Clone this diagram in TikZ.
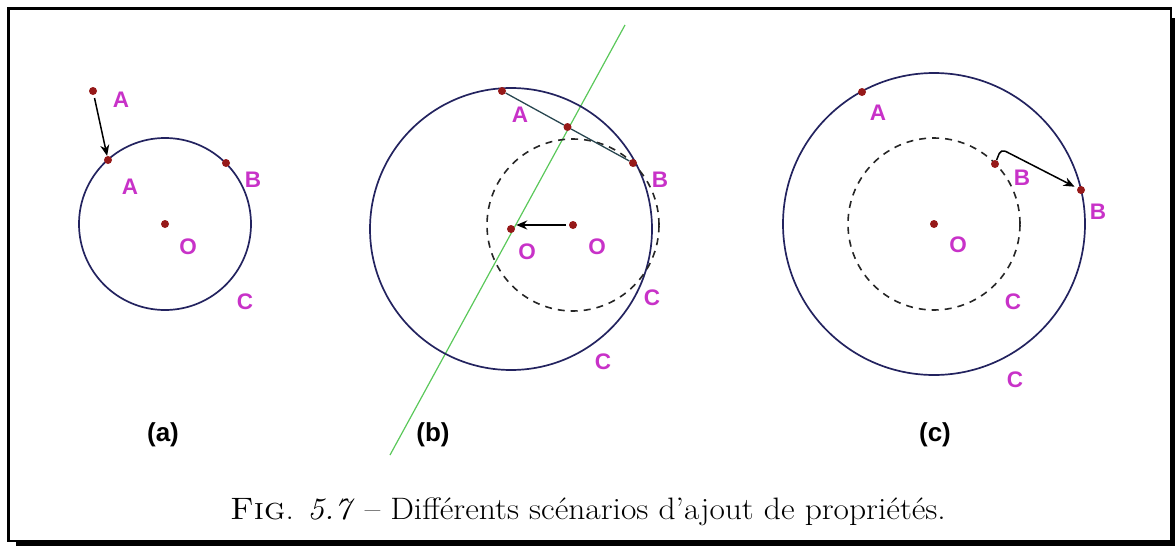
\documentclass[tikz,border=0pt]{standalone}
\usepackage{fontspec}
\usepackage{tikz}
\usepackage{xcolor}
\usetikzlibrary{arrows.meta, calc}
\newfontfamily\lblfont{Liberation Sans}
\definecolor{ptred}{RGB}{150,25,25}
\definecolor{lblmag}{RGB}{200,50,200}
\definecolor{circnavy}{RGB}{35,35,95}
\definecolor{bisgreen}{RGB}{90,200,90}
\definecolor{segdark}{RGB}{40,70,80}
\tikzset{
	dot/.style={circle, fill=ptred, inner sep=0pt, minimum size=8pt},
	lbl/.style={text=lblmag, inner sep=0pt, font=\lblfont\bfseries\fontsize{22.5}{22.5}\selectfont},
	circ/.style={draw=circnavy, line width=1.7pt},
	dashcirc/.style={draw=black!85, line width=1.6pt, dash pattern=on 7pt off 6pt},
	arrow/.style={-{Stealth[length=11pt, width=9pt]}, line width=1.5pt},
	panellabel/.style={font=\lblfont\bfseries\fontsize{26}{26}\selectfont, inner sep=0pt},
	capfont/.style={font=\fontsize{31}{34}\selectfont, inner sep=0pt, xscale=1.08},
}
\begin{document}
\begin{tikzpicture}[x=1pt, y=-1pt]
	\useasboundingbox (0,0) rectangle (1175,546);
	% frame with shadow
	\fill[black] (1171,18) rectangle (1175,546);
	\fill[black] (16,541) rectangle (1175,546);
	\draw[line width=2.6pt] (8.3,8.3) rectangle (1171,541);
	% Panel (a)
	\draw[circ] (165,224) circle[radius=86pt];
	\node[dot] (a_A0) at (93,91) {};
	\node[dot] (a_A1) at (108,160) {};
	\node[dot] (a_B) at (226,163) {};
	\node[dot] (a_O) at (165,224) {};
	\draw[arrow, shorten <=3pt, shorten >=0pt] (a_A0) -- (a_A1);
	\node[lbl] (a_lA0) at (121,100) {A};
	\node[lbl] (a_lA1) at (130,187) {A};
	\node[lbl] (a_lB) at (253,180) {B};
	\node[lbl] (a_lO) at (188,247) {O};
	\node[lbl] (a_lC) at (245,302) {C};
	\node[panellabel] (a_cap) at (163,435) {(a)};
	% Panel (b)
	\coordinate (b_G1) at (625,25);
	\coordinate (b_G2) at (390,455);
	\draw[bisgreen, line width=1.2pt] (b_G1) -- (b_G2);
	\draw[circ] (511,229) circle[radius=141pt];
	\draw[dashcirc] (573,225) circle[radius=86pt];
	\node[dot] (b_A) at (502,91) {};
	\node[dot] (b_B) at (633,163) {};
	\node[dot] (b_M) at (567.5,127) {};
	\node[dot] (b_On) at (511,229) {};
	\node[dot] (b_Oo) at (573,225) {};
	\draw[segdark, line width=1.3pt] (b_A) -- (b_M) -- (b_B);
	\draw[arrow, line width=2pt, shorten <=3pt, shorten >=1pt] (b_Oo.west) -- (b_Oo.west -| b_On.east);
	\node[lbl] (b_lA) at (520,115) {A};
	\node[lbl] (b_lB) at (660,180) {B};
	\node[lbl] (b_lOn) at (527,252) {O};
	\node[lbl] (b_lOo) at (597,247) {O};
	\node[lbl] (b_lC1) at (652,298) {C};
	\node[lbl] (b_lC2) at (603,362) {C};
	\node[panellabel] (b_cap) at (433,435) {(b)};
	% Panel (c)
	\draw[circ] (934,224) circle[radius=151pt];
	\draw[dashcirc] (934,224) circle[radius=86pt];
	\node[dot] (c_A) at (862,92) {};
	\node[dot] (c_Bi) at (995,164) {};
	\node[dot] (c_Bo) at (1081,190) {};
	\node[dot] (c_O) at (934,224) {};
	\coordinate (c_bend) at (1001,149);
	\draw[arrow, rounded corners=5pt, shorten >=3pt] (c_Bi) -- (c_bend) -- (c_Bo);
	\node[lbl] (c_lA) at (878,113) {A};
	\node[lbl] (c_lBi) at (1022,178) {B};
	\node[lbl] (c_lBo) at (1098,212) {B};
	\node[lbl] (c_lO) at (958,245) {O};
	\node[lbl] (c_lC1) at (1013,302) {C};
	\node[lbl] (c_lC2) at (1015,380) {C};
	\node[panellabel] (c_cap) at (935,435) {(c)};
	% caption
	\node[capfont] (caption) at (588,512) {\textsc{Fig}. \textit{5.7} -- Différents scénarios d'ajout de propriétés.};
\end{tikzpicture}
\end{document}
